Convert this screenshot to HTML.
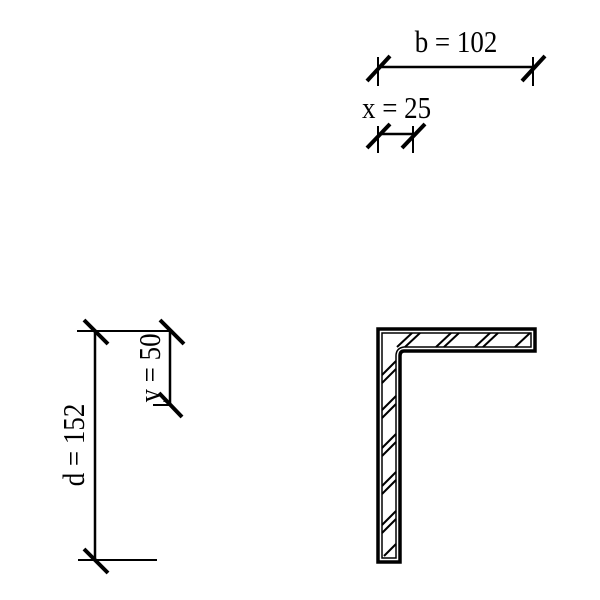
<!DOCTYPE html>
<html><head><style>body{margin:0;background:#fff}svg{display:block}</style></head><body>
<svg width="600" height="600" xmlns="http://www.w3.org/2000/svg" font-family="Liberation Serif, serif" fill="none" stroke="#000">
<!-- b dimension -->
<line x1="378" y1="67" x2="533" y2="67" stroke-width="2.5"/>
<line x1="378" y1="57" x2="378" y2="86" stroke-width="2"/>
<line x1="533" y1="57" x2="533" y2="86" stroke-width="2"/>
<line x1="367" y1="81" x2="390" y2="56" stroke-width="4"/>
<line x1="522" y1="81" x2="545" y2="56" stroke-width="4"/>
<text transform="translate(456,52) scale(0.87,1)" font-size="31" text-anchor="middle" fill="#000" stroke="none">b = 102</text>
<!-- x dimension -->
<line x1="378" y1="134" x2="413" y2="134" stroke-width="2.5"/>
<line x1="378" y1="126" x2="378" y2="153" stroke-width="2"/>
<line x1="413" y1="126" x2="413" y2="153" stroke-width="2"/>
<line x1="367" y1="148" x2="390" y2="124" stroke-width="4"/>
<line x1="402" y1="148" x2="425" y2="124" stroke-width="4"/>
<text transform="translate(362,118) scale(0.87,1)" font-size="31" fill="#000" stroke="none">x = 25</text>
<!-- d dimension -->
<line x1="95" y1="331" x2="95" y2="560" stroke-width="2.5"/>
<line x1="77" y1="331" x2="172" y2="331" stroke-width="2"/>
<line x1="78" y1="560" x2="157" y2="560" stroke-width="2"/>
<line x1="84" y1="320" x2="108" y2="344" stroke-width="4"/>
<line x1="160" y1="320" x2="184" y2="344" stroke-width="4"/>
<line x1="84" y1="549" x2="108" y2="573" stroke-width="4"/>
<line x1="170" y1="331" x2="170" y2="405" stroke-width="2.5"/>
<line x1="153" y1="405" x2="170" y2="405" stroke-width="2"/>
<line x1="159" y1="393" x2="182" y2="417" stroke-width="4"/>
<text transform="translate(84,445) rotate(-90) scale(0.87,1)" font-size="31" text-anchor="middle" fill="#000" stroke="none">d = 152</text>
<text transform="translate(160,368) rotate(-90) scale(0.87,1)" font-size="31" text-anchor="middle" fill="#000" stroke="none">y = 50</text>
<!-- angle section -->
<path d="M378,329 H535 V351 H404 Q400,351 400,356 V562 H378 Z" stroke-width="3.5"/>
<path d="M382,333 H531 V347 H404 Q396,348 396,356 V558 H382 Z" stroke-width="1.5"/>
<g stroke-width="2">
<line x1="397" y1="347" x2="412" y2="333"/><line x1="405" y1="347" x2="420" y2="333"/>
<line x1="436" y1="347" x2="451" y2="333"/><line x1="444" y1="347" x2="459" y2="333"/>
<line x1="475" y1="347" x2="490" y2="333"/><line x1="483" y1="347" x2="498" y2="333"/>
<line x1="515" y1="347" x2="530" y2="333"/>
<line x1="382" y1="375" x2="396" y2="361"/><line x1="382" y1="383" x2="396" y2="369"/>
<line x1="382" y1="410" x2="396" y2="396"/><line x1="382" y1="418" x2="396" y2="404"/>
<line x1="382" y1="448" x2="396" y2="434"/><line x1="382" y1="456" x2="396" y2="442"/>
<line x1="382" y1="486" x2="396" y2="472"/><line x1="382" y1="494" x2="396" y2="480"/>
<line x1="382" y1="525" x2="396" y2="511"/><line x1="382" y1="533" x2="396" y2="519"/>
<line x1="384" y1="556" x2="396" y2="544"/>
</g>
</svg>
</body></html>
